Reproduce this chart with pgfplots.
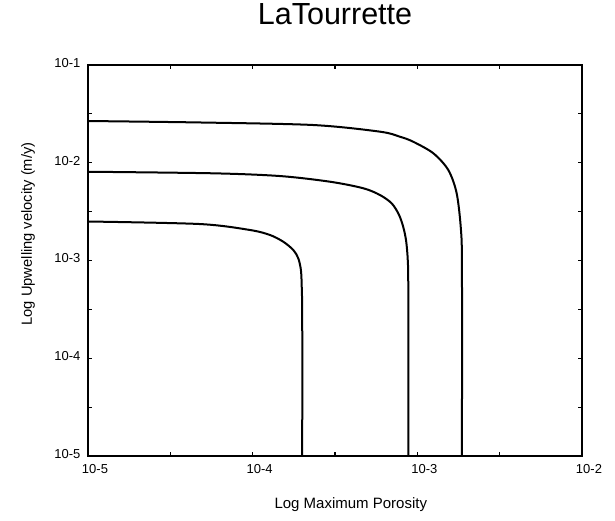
\documentclass[border=0pt]{standalone}
\usepackage{fontspec}
\setmainfont{Liberation Sans}
\usepackage{pgfplots}
\pgfplotsset{compat=1.18}
\tikzset{curve/.style={black, line width=2pt, no markers, smooth, tension=0.5}}
\begin{document}
\begin{tikzpicture}
\useasboundingbox (-88pt,-64pt) rectangle (527pt,456pt);
\begin{axis}[
  at={(0,0)}, anchor=south west,
  width=494pt, height=391pt, scale only axis,
  xmin=-5, xmax=-2, ymin=-5, ymax=-1,
  xtick={-5,-4,-3,-2}, xticklabels={10-5,10-4,10-3,10-2},
  ytick={-5,-4,-3,-2,-1}, yticklabels={10-5,10-4,10-3,10-2,10-1},
  minor xtick={-4.5,-3.5,-2.5}, minor ytick={-4.5,-3.5,-2.5,-1.5},
  major tick length=4pt, minor tick length=4pt,
  tick style={line width=1.1pt, black},
  axis line style={line width=1.8pt},
  ticklabel style={font=\fontsize{13}{15}\selectfont},
  xticklabel style={xshift=7pt, yshift=-5pt},
  yticklabel style={xshift=-4pt, yshift=2pt},
  title={LaTourrette},
  title style={at={(axis description cs:0.5,1.0895)}, anchor=base, font=\fontsize{30.5}{34}\selectfont},
  xlabel={Log Maximum Porosity},
  xlabel style={at={(axis description cs:0.532,-0.1355)}, anchor=base, font=\fontsize{15}{17}\selectfont},
  ylabel={Log Upwelling velocity (m/y)},
  ylabel style={at={(axis description cs:-0.1134,0.568)}, anchor=base, rotate=0, font=\fontsize{14.7}{17}\selectfont},
]
\addplot[curve] coordinates {
(-5,-1.573) (-4.320,-1.588) (-3.632,-1.614) (-3.227,-1.682) (-3.105,-1.734)
(-3.025,-1.785) (-2.903,-1.903) (-2.812,-2.074) (-2.761,-2.313) (-2.735,-2.688)
(-2.729,-3.097) (-2.729,-5)};
\addplot[curve] coordinates {
(-5,-2.092) (-4.239,-2.108) (-3.834,-2.136) (-3.530,-2.194) (-3.328,-2.261)
(-3.227,-2.330) (-3.156,-2.415) (-3.112,-2.530) (-3.085,-2.660) (-3.068,-2.800)
(-3.058,-3.000) (-3.055,-3.300) (-3.055,-5)};
\addplot[curve] coordinates {
(-5,-2.601) (-4.320,-2.627) (-4.016,-2.688) (-3.895,-2.739) (-3.814,-2.808)
(-3.753,-2.893) (-3.723,-2.978) (-3.707,-3.097) (-3.702,-3.268) (-3.699,-3.609)
(-3.699,-5)};
\end{axis}
\end{tikzpicture}
\end{document}
